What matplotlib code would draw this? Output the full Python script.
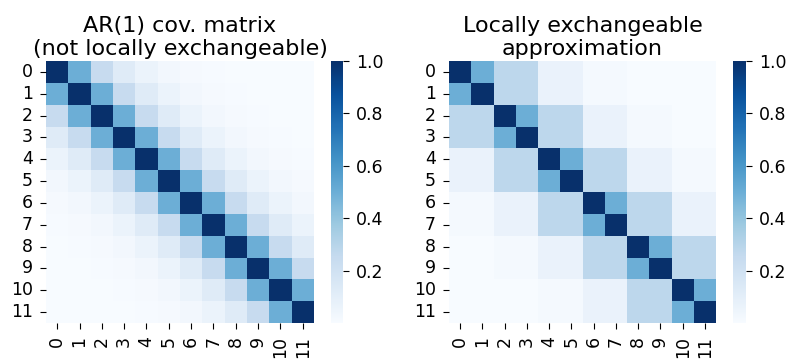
import numpy as np
import matplotlib
matplotlib.use("Agg")
import matplotlib.pyplot as plt
import seaborn as sns

# ----------------------------
# Daten
# ----------------------------
labels = list(range(12))

ar1_cov = [
    [1.0, 0.5, 0.25, 0.125, 0.0625, 0.0313, 0.0156, 0.0078, 0.0039, 0.002, 0.001, 0.0005],
    [0.5, 1.0, 0.5, 0.25, 0.125, 0.0625, 0.0313, 0.0156, 0.0078, 0.0039, 0.002, 0.001],
    [0.25, 0.5, 1.0, 0.5, 0.25, 0.125, 0.0625, 0.0313, 0.0156, 0.0078, 0.0039, 0.002],
    [0.125, 0.25, 0.5, 1.0, 0.5, 0.25, 0.125, 0.0625, 0.0313, 0.0156, 0.0078, 0.0039],
    [0.0625, 0.125, 0.25, 0.5, 1.0, 0.5, 0.25, 0.125, 0.0625, 0.0313, 0.0156, 0.0078],
    [0.0313, 0.0625, 0.125, 0.25, 0.5, 1.0, 0.5, 0.25, 0.125, 0.0625, 0.0313, 0.0156],
    [0.0156, 0.0313, 0.0625, 0.125, 0.25, 0.5, 1.0, 0.5, 0.25, 0.125, 0.0625, 0.0313],
    [0.0078, 0.0156, 0.0313, 0.0625, 0.125, 0.25, 0.5, 1.0, 0.5, 0.25, 0.125, 0.0625],
    [0.0039, 0.0078, 0.0156, 0.0313, 0.0625, 0.125, 0.25, 0.5, 1.0, 0.5, 0.25, 0.125],
    [0.002, 0.0039, 0.0078, 0.0156, 0.0313, 0.0625, 0.125, 0.25, 0.5, 1.0, 0.5, 0.25],
    [0.001, 0.002, 0.0039, 0.0078, 0.0156, 0.0313, 0.0625, 0.125, 0.25, 0.5, 1.0, 0.5],
    [0.0005, 0.001, 0.002, 0.0039, 0.0078, 0.0156, 0.0313, 0.0625, 0.125, 0.25, 0.5, 1.0],
]

local_exch = [
    [1.0, 0.5, 0.28, 0.28, 0.07, 0.07, 0.018, 0.018, 0.0044, 0.0044, 0.0011, 0.0011],
    [0.5, 1.0, 0.28, 0.28, 0.07, 0.07, 0.018, 0.018, 0.0044, 0.0044, 0.0011, 0.0011],
    [0.28, 0.28, 1.0, 0.5, 0.28, 0.28, 0.07, 0.07, 0.018, 0.018, 0.0044, 0.0044],
    [0.28, 0.28, 0.5, 1.0, 0.28, 0.28, 0.07, 0.07, 0.018, 0.018, 0.0044, 0.0044],
    [0.07, 0.07, 0.28, 0.28, 1.0, 0.5, 0.28, 0.28, 0.07, 0.07, 0.018, 0.018],
    [0.07, 0.07, 0.28, 0.28, 0.5, 1.0, 0.28, 0.28, 0.07, 0.07, 0.018, 0.018],
    [0.018, 0.018, 0.07, 0.07, 0.28, 0.28, 1.0, 0.5, 0.28, 0.28, 0.07, 0.07],
    [0.018, 0.018, 0.07, 0.07, 0.28, 0.28, 0.5, 1.0, 0.28, 0.28, 0.07, 0.07],
    [0.0044, 0.0044, 0.018, 0.018, 0.07, 0.07, 0.28, 0.28, 1.0, 0.5, 0.28, 0.28],
    [0.0044, 0.0044, 0.018, 0.018, 0.07, 0.07, 0.28, 0.28, 0.5, 1.0, 0.28, 0.28],
    [0.0011, 0.0011, 0.0044, 0.0044, 0.018, 0.018, 0.07, 0.07, 0.28, 0.28, 1.0, 0.5],
    [0.0011, 0.0011, 0.0044, 0.0044, 0.018, 0.018, 0.07, 0.07, 0.28, 0.28, 0.5, 1.0],
]

titles = ["AR(1) cov. matrix\n(not locally exchangeable)",
          "Locally exchangeable\napproximation"]

# ----------------------------
# Plot
# ----------------------------
W, H = 790, 360
fig = plt.figure(figsize=(W / 100, H / 100), dpi=100)

def px_axes(x0, x1, y0, y1):
    return fig.add_axes([x0 / W, 1 - y1 / H, (x1 - x0) / W, (y1 - y0) / H])

panels = [
    (ar1_cov, (46, 314), (331, 343)),
    (local_exch, (449, 716), (733, 746)),
]

for (mat, (ax0, ax1), (cb0, cb1)), title in zip(panels, titles):
    ax = px_axes(ax0, ax1, 61, 323)
    cax = px_axes(cb0, cb1, 61, 323)
    sns.heatmap(np.array(mat), ax=ax, cbar_ax=cax, cmap="Blues",
                xticklabels=labels, yticklabels=labels)
    ax.set_title(title, fontsize=16, pad=4)
    ax.tick_params(axis="x", labelsize=12.5, rotation=90, length=4.5, pad=5)
    ax.tick_params(axis="y", labelsize=12.5, rotation=0, length=4.5, pad=5)
    cax.tick_params(labelsize=12.5, length=4.5, pad=5)

plt.savefig("out.png", dpi=100)
